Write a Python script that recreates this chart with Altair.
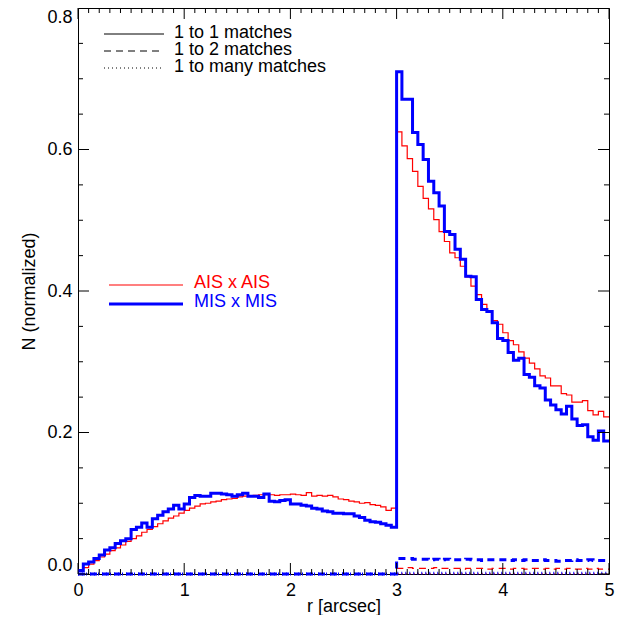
import altair as alt
import pandas as pd

# ---------------- data (bin width 0.05 arcsec, 100 bins from 0 to 5) ----------------
bin_width = 0.05
n_bins = 100

red_1to1 = [
    0.004, 0.009, 0.014, 0.019, 0.024, 0.028, 0.033, 0.037, 0.041, 0.046,
    0.050, 0.054, 0.059, 0.063, 0.067, 0.071, 0.075, 0.079, 0.082, 0.086,
    0.090, 0.093, 0.096, 0.099, 0.100,
    0.102, 0.103, 0.105, 0.106, 0.107, 0.109, 0.110, 0.110, 0.111, 0.112,
    0.112, 0.112, 0.111, 0.112, 0.112, 0.113, 0.112, 0.111, 0.115, 0.110,
    0.111, 0.110,
    0.111, 0.109, 0.106, 0.105, 0.103, 0.102, 0.100, 0.101, 0.098, 0.097,
    0.095, 0.090, 0.093,
    0.625, 0.605, 0.587, 0.569, 0.548, 0.531, 0.516, 0.501, 0.484, 0.470,
    0.454, 0.447, 0.435, 0.420, 0.407, 0.395, 0.381, 0.372,
    0.358, 0.353, 0.341, 0.330, 0.324, 0.314, 0.305, 0.298, 0.290, 0.280,
    0.277, 0.266, 0.266, 0.255, 0.253, 0.243, 0.243, 0.245, 0.231, 0.225,
    0.230, 0.222,
]

blue_1to1 = [
    0.005, 0.014, 0.017, 0.022, 0.027, 0.034, 0.037, 0.043, 0.047, 0.050,
    0.063, 0.066, 0.072, 0.066, 0.078, 0.083, 0.088, 0.092, 0.097, 0.092,
    0.099, 0.108, 0.111, 0.110, 0.110,
    0.114, 0.114, 0.113, 0.112, 0.110, 0.112, 0.114, 0.110, 0.110, 0.108,
    0.113, 0.103, 0.102, 0.104, 0.105, 0.099, 0.099, 0.097, 0.096, 0.093,
    0.092, 0.089,
    0.088, 0.086, 0.086, 0.085, 0.085, 0.082, 0.080, 0.076, 0.074, 0.073,
    0.071, 0.069, 0.066,
    0.710, 0.671, 0.671, 0.624, 0.607, 0.586, 0.555, 0.539, 0.520, 0.484,
    0.480, 0.459, 0.445, 0.421, 0.420, 0.388, 0.374, 0.371,
    0.355, 0.333, 0.330, 0.313, 0.302, 0.305, 0.282, 0.278, 0.266, 0.263,
    0.246, 0.239, 0.232, 0.226, 0.237, 0.219, 0.210, 0.211, 0.194, 0.189,
    0.202, 0.188,
]

blue_1to2 = [0.0] * 60 + [
    0.022, 0.022, 0.022, 0.021, 0.021, 0.021, 0.020, 0.021, 0.020, 0.021,
    0.020, 0.020, 0.020, 0.021, 0.020, 0.020, 0.019, 0.020, 0.020, 0.020,
    0.020, 0.019, 0.020, 0.019, 0.020, 0.019, 0.019, 0.020, 0.019, 0.019,
    0.018, 0.019, 0.019, 0.020, 0.019, 0.019, 0.020, 0.019, 0.019, 0.019,
]

red_1to2 = [0.0] * 60 + [
    0.008, 0.008, 0.009, 0.008, 0.008, 0.008, 0.008, 0.009, 0.008, 0.008,
    0.008, 0.008, 0.007, 0.008, 0.008, 0.008, 0.008, 0.007, 0.008, 0.008,
    0.008, 0.007, 0.008, 0.008, 0.007, 0.008, 0.008, 0.007, 0.008, 0.007,
    0.008, 0.007, 0.008, 0.007, 0.007, 0.008, 0.007, 0.008, 0.007, 0.007,
]

blue_1tomany = [0.0] * 60 + [0.001] * 40
red_1tomany = [0.0] * 60 + [0.0005] * 40

x_ticks = [0, 1, 2, 3, 4, 5]
y_ticks = [0.0, 0.2, 0.4, 0.6, 0.8]
x_minor = [round(i * 0.1, 2) for i in range(51) if i % 10 != 0]
y_minor = [round(i * 0.05, 2) for i in range(17) if i % 4 != 0]

match_labels = ["1 to 1 matches", "1 to 2 matches", "1 to many matches"]
survey_labels = ["AIS x AIS", "MIS x MIS"]

# ---------------- layout ----------------
W, H = 531, 566
FONT = "Liberation Sans"
FS = 18
LFS = 18
RED = "#ff0000"
BLUE = "#0000ff"

xscale = alt.Scale(domain=[0, 5], nice=False, zero=False)
yscale = alt.Scale(domain=[0, 0.8], nice=False, zero=False)

x_axis = alt.Axis(values=x_ticks, format="d", title="r [arcsec]", labelPadding=7,
                  titlePadding=-2, labelFlush=False, grid=False, ticks=False, domain=False)
y_axis = alt.Axis(values=y_ticks, format=".1f", title="N (normalized)", labelPadding=6,
                  titlePadding=8, labelFlush=True, labelFlushOffset=0,
                  grid=False, ticks=False, domain=False)


def step_layer(vals, color, width, dash=None):
    xs = [round(i * bin_width, 3) for i in range(n_bins)] + [5.0]
    ys = list(vals) + [vals[-1]]
    df = pd.DataFrame({"r": xs, "n": ys})
    kw = dict(interpolate="step-after", color=color, strokeWidth=width)
    if dash is not None:
        kw["strokeDash"] = dash
    return alt.Chart(df).mark_line(**kw).encode(
        x=alt.X("r:Q", scale=xscale, axis=x_axis),
        y=alt.Y("n:Q", scale=yscale, axis=y_axis),
    )


DASH = [7, 5]
DOT = [1, 3]

layers = [
    step_layer(red_1to1, RED, 1.2),
    step_layer(red_1to2, RED, 1.2, DASH),
    step_layer(red_1tomany, RED, 1.2, DOT),
    step_layer(blue_1to1, BLUE, 3),
    step_layer(blue_1to2, BLUE, 3, DASH),
    step_layer(blue_1tomany, BLUE, 3, DOT),
]

# ---------------- inward ticks (IDL style) ----------------
def xticks(vals, length):
    df = pd.DataFrame({"r": vals})
    base = alt.Chart(df).mark_rule(color="black", strokeWidth=1)
    bottom = base.encode(x=alt.X("r:Q", scale=xscale, axis=x_axis),
                         y=alt.value(H), y2=alt.value(H - length))
    top = base.encode(x=alt.X("r:Q", scale=xscale, axis=x_axis),
                      y=alt.value(0), y2=alt.value(length))
    return [bottom, top]


def yticks(vals, length):
    df = pd.DataFrame({"n": vals})
    base = alt.Chart(df).mark_rule(color="black", strokeWidth=1)
    left = base.encode(y=alt.Y("n:Q", scale=yscale, axis=y_axis),
                       x=alt.value(0), x2=alt.value(length))
    right = base.encode(y=alt.Y("n:Q", scale=yscale, axis=y_axis),
                        x=alt.value(W), x2=alt.value(W - length))
    return [left, right]


tick_layers = (xticks(x_ticks, 11) + xticks(x_minor, 5) +
               yticks(y_ticks, 11) + yticks(y_minor, 5))

# ---------------- legends ----------------
leg_lines = []
for i, (lab, dash) in enumerate(zip(match_labels, [None, DASH, DOT])):
    yy = 26 + 17 * i
    kw = dict(color="black", strokeWidth=1)
    if dash is not None:
        kw["strokeDash"] = dash
    leg_lines.append(
        alt.Chart(pd.DataFrame({"label": [lab]})).mark_rule(**kw).encode(
            x=alt.value(26), x2=alt.value(86), y=alt.value(yy)))
    leg_lines.append(
        alt.Chart(pd.DataFrame({"label": [lab]})).mark_text(
            align="left", baseline="middle", font=FONT, fontSize=LFS, color="black"
        ).encode(x=alt.value(96), y=alt.value(yy - 1), text="label:N"))

for i, (lab, col, sw) in enumerate(zip(survey_labels, [RED, BLUE], [1.2, 3])):
    yy = 277 + 19 * i
    leg_lines.append(
        alt.Chart(pd.DataFrame({"label": [lab]})).mark_rule(color=col, strokeWidth=sw).encode(
            x=alt.value(31), x2=alt.value(105), y=alt.value(yy)))
    leg_lines.append(
        alt.Chart(pd.DataFrame({"label": [lab]})).mark_text(
            align="left", baseline="middle", font=FONT, fontSize=FS, color=col
        ).encode(x=alt.value(116), y=alt.value(yy - 2), text="label:N"))

chart = alt.layer(*layers, *tick_layers, *leg_lines).properties(
    width=W, height=H,
    background="white",
    autosize=alt.AutoSizeParams(type="none"),
    padding={"left": 70, "top": 0, "right": 17, "bottom": 41},
).configure_view(
    stroke="black", strokeWidth=1
).configure_axis(
    labelFont=FONT, labelFontSize=FS, labelColor="black",
    titleFont=FONT, titleFontSize=FS, titleFontWeight="normal", titleColor="black",
    ticks=False, domain=False, grid=False,
)

chart.save("out.html", embed_options={"renderer": "svg", "actions": False})
